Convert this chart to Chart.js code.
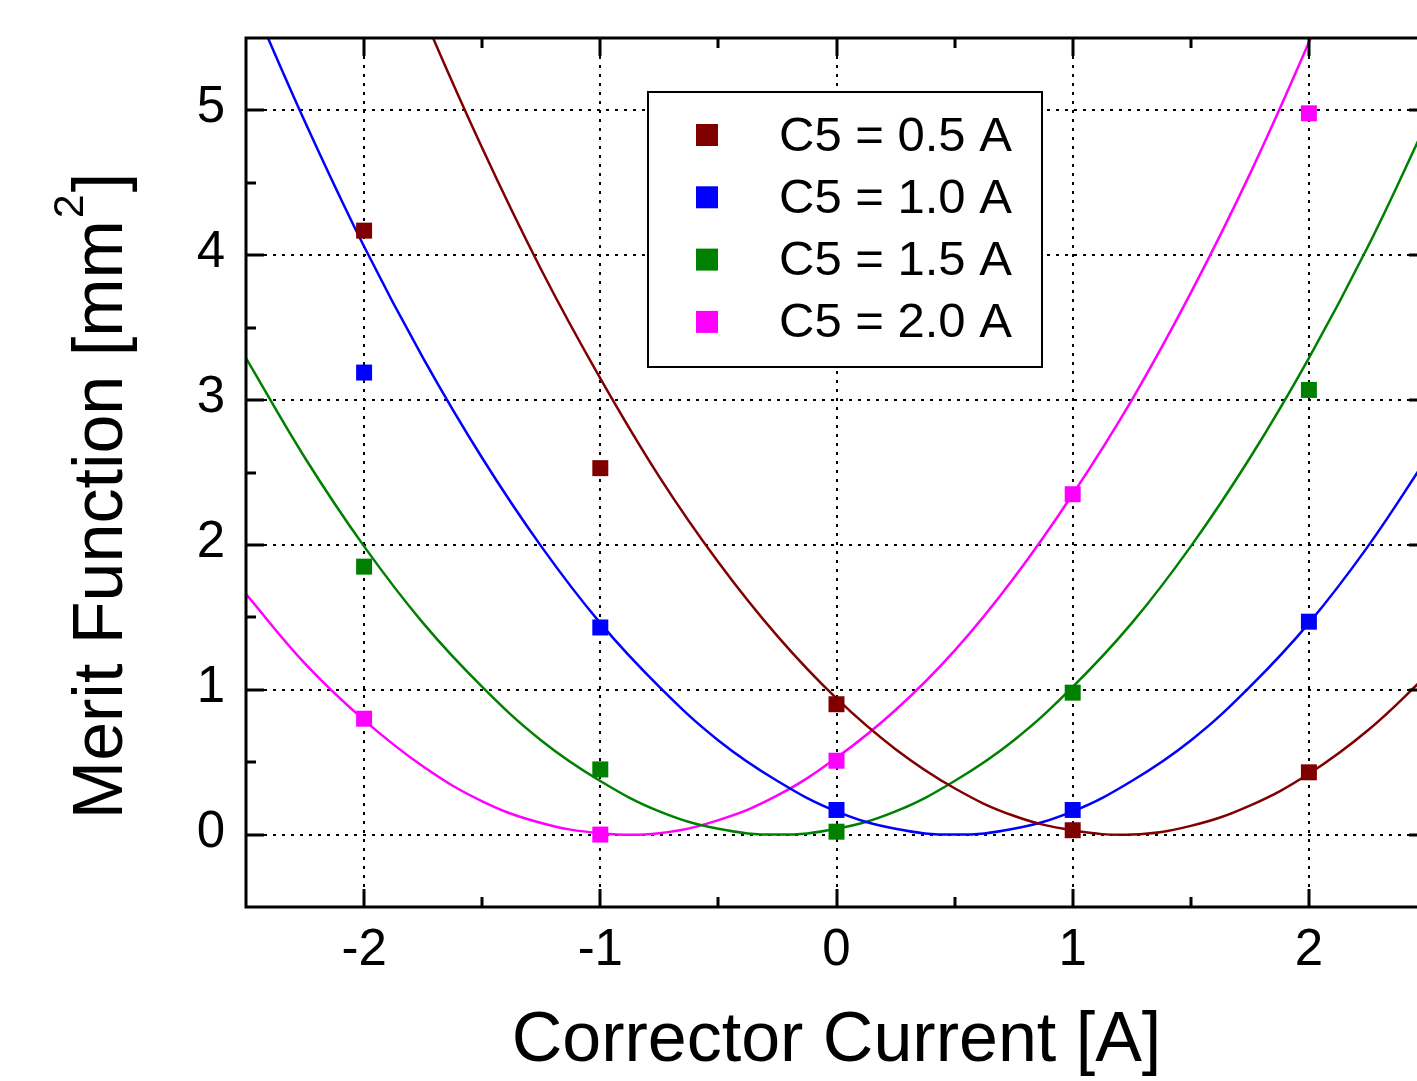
<!DOCTYPE html>
<html>
<head>
<meta charset="utf-8">
<title>Merit Function vs Corrector Current</title>
<script src="https://cdn.jsdelivr.net/npm/chart.js@4.4.0/dist/chart.umd.min.js"></script>
<style>
  html, body { margin: 0; padding: 0; background: #fff; overflow: hidden; }
  #wrap { position: absolute; left: 0; top: 0; width: 1440px; height: 1081px; }
</style>
</head>
<body>
<div id="wrap"><canvas id="meritChart" width="1440" height="1081"></canvas></div>
<script>
const FONT = '"Liberation Sans", Arial, sans-serif';

// Mesures : courant du correcteur [A]
const measuredCurrents = [-2, -1, 0, 1, 2];
const seriesLabels = ["C5 = 0.5 A", "C5 = 1.0 A", "C5 = 1.5 A", "C5 = 2.0 A"];
const seriesColors = ["#800000", "#0000ff", "#008000", "#ff00ff"];

// Fonction de mérite mesurée [mm²]
const meritC5_05 = [4.17, 2.53, 0.90, 0.03, 0.43];
const meritC5_10 = [3.19, 1.43, 0.17, 0.17, 1.47];
const meritC5_15 = [1.85, 0.45, 0.02, 0.98, 3.07];
const meritC5_20 = [0.80, 0.00, 0.51, 2.35, 4.98];

// Courbes d'ajustement, tous les 0.25 A
const fitCurrents = [-2.5, -2.25, -2, -1.75, -1.5, -1.25, -1, -0.75, -0.5, -0.25, 0,
                     0.25, 0.5, 0.75, 1, 1.25, 1.5, 1.75, 2, 2.25, 2.5];
const fitC5_05 = [8.90, 7.74, 6.66, 5.66, 4.74, 3.90, 3.15, 2.47, 1.88, 1.37, 0.94,
                  0.59, 0.32, 0.13, 0.03, 0.00, 0.06, 0.20, 0.42, 0.72, 1.10];
const fitC5_10 = [5.85, 4.92, 4.06, 3.29, 2.60, 1.99, 1.46, 1.02, 0.65, 0.37, 0.16,
                  0.04, 0.00, 0.04, 0.16, 0.37, 0.65, 1.02, 1.46, 1.99, 2.60];
const fitC5_15 = [3.29, 2.60, 1.99, 1.46, 1.02, 0.65, 0.37, 0.16, 0.04, 0.00, 0.04,
                  0.16, 0.37, 0.65, 1.02, 1.46, 1.99, 2.60, 3.29, 4.06, 4.92];
const fitC5_20 = [1.66, 1.18, 0.79, 0.47, 0.23, 0.08, 0.01, 0.01, 0.10, 0.27, 0.53,
                  0.86, 1.27, 1.77, 2.35, 3.00, 3.74, 4.56, 5.47, 6.45, 7.51];

// Graduations
const xTicks = [-2, -1, 0, 1, 2];
const xMinorTicks = [-1.5, -0.5, 0.5, 1.5];
const yTicks = [0, 1, 2, 3, 4, 5];
const yMinorTicks = [0.5, 1.5, 2.5, 3.5, 4.5];

const measuredSeries = [meritC5_05, meritC5_10, meritC5_15, meritC5_20];
const fitSeries = [fitC5_05, fitC5_10, fitC5_15, fitC5_20];

function toPoints(xs, ys) {
    return xs.map((x, i) => ({ x, y: ys[i] }));
}

const datasets = [
    ...measuredSeries.map((values, i) => ({
        label: seriesLabels[i],
        data: toPoints(measuredCurrents, values),
        showLine: false,
        pointStyle: "rect",
        pointRadius: 11.3,
        pointHoverRadius: 11.3,
        pointBorderWidth: 0,
        backgroundColor: seriesColors[i],
        borderColor: seriesColors[i],
    })),
    ...fitSeries.map((values, i) => ({
        label: seriesLabels[i] + " (fit)",
        isFit: true,
        data: toPoints(fitCurrents, values),
        showLine: true,
        pointRadius: 0,
        pointHoverRadius: 0,
        borderColor: seriesColors[i],
        backgroundColor: seriesColors[i],
        borderWidth: 2.5,
        tension: 0.4,
        fill: false,
    })),
];

/** Grille pointillée, cadre, graduations intérieures, titre Y et légende. */
const framePlugin = {
    id: "framePlugin",
    beforeDatasetsDraw(chart) {
        const { ctx, chartArea: a, scales: { x, y } } = chart;
        ctx.save();
        ctx.strokeStyle = "#000";
        ctx.lineWidth = 2;
        ctx.setLineDash([3, 6]);
        ctx.beginPath();
        xTicks.forEach((v) => {
            const px = Math.round(x.getPixelForValue(v));
            ctx.moveTo(px, a.top);
            ctx.lineTo(px, a.bottom);
        });
        yTicks.forEach((v) => {
            const py = Math.round(y.getPixelForValue(v));
            ctx.moveTo(a.left, py);
            ctx.lineTo(a.right, py);
        });
        ctx.stroke();
        ctx.restore();
    },
    afterDatasetsDraw(chart) {
        const { ctx, chartArea: a, scales: { x, y } } = chart;
        ctx.save();
        ctx.strokeStyle = "#000";
        ctx.lineWidth = 3;
        ctx.setLineDash([]);
        ctx.strokeRect(a.left, a.top, a.right - a.left, a.bottom - a.top);

        // graduations vers l'intérieur
        ctx.beginPath();
        const xMarks = xTicks.map((v) => [v, 18]).concat(xMinorTicks.map((v) => [v, 10]));
        xMarks.forEach(([v, len]) => {
            const px = Math.round(x.getPixelForValue(v));
            ctx.moveTo(px, a.bottom);
            ctx.lineTo(px, a.bottom - len);
            ctx.moveTo(px, a.top);
            ctx.lineTo(px, a.top + len);
        });
        const yMarks = yTicks.map((v) => [v, 18]).concat(yMinorTicks.map((v) => [v, 10]));
        yMarks.forEach(([v, len]) => {
            const py = Math.round(y.getPixelForValue(v));
            ctx.moveTo(a.left, py);
            ctx.lineTo(a.left + len, py);
            ctx.moveTo(a.right, py);
            ctx.lineTo(a.right - len, py);
        });
        ctx.stroke();

        // titre de l'axe Y avec exposant
        ctx.fillStyle = "#000";
        const main = "Merit Function [mm";
        const sup = "2";
        const close = "]";
        ctx.font = `70px ${FONT}`;
        const w1 = ctx.measureText(main).width;
        const w3 = ctx.measureText(close).width;
        ctx.font = `43px ${FONT}`;
        const w2 = ctx.measureText(sup).width + 4;
        const total = w1 + w2 + w3;
        ctx.save();
        ctx.translate(122, 496 + total / 2);
        ctx.rotate(-Math.PI / 2);
        ctx.textAlign = "left";
        ctx.textBaseline = "alphabetic";
        ctx.font = `70px ${FONT}`;
        ctx.fillText(main, 0, 0);
        ctx.font = `43px ${FONT}`;
        ctx.fillText(sup, w1 + 2, -39);
        ctx.font = `70px ${FONT}`;
        ctx.fillText(close, w1 + w2, 0);
        ctx.restore();

        // légende
        const lx = a.left + 402;
        const ly = a.top + 54;
        ctx.fillStyle = "#fff";
        ctx.fillRect(lx, ly, 394, 275);
        ctx.lineWidth = 2;
        ctx.strokeRect(lx, ly, 394, 275);
        ctx.font = `49px ${FONT}`;
        ctx.textBaseline = "middle";
        ctx.textAlign = "left";
        chart.data.datasets
            .filter((d) => !d.isFit)
            .forEach((d, i) => {
                const cy = ly + 43 + i * 62.3;
                ctx.fillStyle = d.backgroundColor;
                ctx.fillRect(lx + 48, cy - 11, 22, 22);
                ctx.fillStyle = "#000";
                ctx.fillText(d.label, lx + 131, cy + 2);
            });
        ctx.restore();
    },
};

new Chart(document.getElementById("meritChart"), {
    type: "scatter",
    data: { datasets },
    options: {
        responsive: false,
        animation: false,
        events: [],
        layout: { padding: { left: 0, top: 38, right: 13, bottom: 0 } },
        plugins: {
            legend: { display: false },
            tooltip: { enabled: false },
        },
        scales: {
            x: {
                type: "linear",
                min: -2.5,
                max: 2.5,
                afterBuildTicks: (scale) => {
                    scale.ticks = xTicks.map((value) => ({ value }));
                },
                afterFit: (scale) => {
                    scale.height = 174;
                    scale.paddingLeft = 0;
                    scale.paddingRight = 0;
                },
                ticks: {
                    color: "#000",
                    font: { family: FONT, size: 51 },
                    padding: 13,
                    maxRotation: 0,
                    autoSkip: false,
                    callback: (value) => String(value),
                },
                grid: { display: false, drawTicks: false },
                border: { display: false },
                title: {
                    display: true,
                    text: "Corrector Current [A]",
                    color: "#000",
                    font: { family: FONT, size: 70, lineHeight: 1 },
                    padding: { top: 0, bottom: 4 },
                },
            },
            y: {
                type: "linear",
                min: -0.5,
                max: 5.5,
                afterBuildTicks: (scale) => {
                    scale.ticks = yTicks.map((value) => ({ value }));
                },
                afterFit: (scale) => {
                    scale.width = 246;
                    scale.paddingTop = 0;
                    scale.paddingBottom = 0;
                },
                ticks: {
                    color: "#000",
                    font: { family: FONT, size: 51 },
                    padding: 21,
                    labelOffset: -2,
                    autoSkip: false,
                    callback: (value) => String(value),
                },
                grid: { display: false, drawTicks: false },
                border: { display: false },
            },
        },
    },
    plugins: [framePlugin],
});
</script>
</body>
</html>
